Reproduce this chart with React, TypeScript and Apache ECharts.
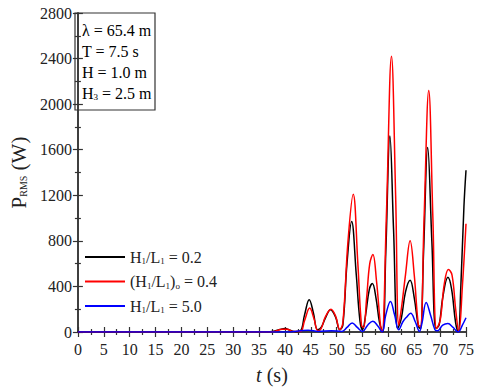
import React, { useEffect, useRef } from "react";
import * as echarts from "echarts";

const seriesNames = ["h02", "h04", "h50"];

const black: [number, number][] = [
  [0, 0], [30, 0], [36, 0], [37.5, 5], [39, 22], [40, 30], [41, 15], [42, 3], [43, 10],
  [43.8, 150], [44.7, 283], [45.5, 170], [46.3, 20], [47, 40], [47.8, 120], [48.8, 195],
  [49.8, 130], [50.6, 20], [51.2, 60], [52, 600], [52.9, 970], [53.8, 500], [54.5, 100],
  [55, 20], [55.6, 150], [56.3, 370], [56.9, 425], [57.6, 300], [58.3, 80], [58.9, 0],
  [59.5, 700], [60.3, 1720], [61.0, 900], [61.8, 30], [62.5, 120], [63.3, 350], [64.2, 455],
  [65, 300], [65.8, 50], [66.2, 30], [66.8, 700], [67.6, 1620], [68.4, 800], [69.2, 30],
  [69.8, 60], [70.5, 300], [71.5, 480], [72.2, 380], [73, 80], [73.5, 0], [74, 400],
  [74.6, 1100], [75, 1420],
];

const red: [number, number][] = [
  [0, 0], [36, 0], [38, 5], [39.5, 25], [40.5, 25], [41.5, 5], [43, 5], [43.8, 100],
  [44.8, 210], [45.6, 120], [46.4, 10], [47, 30], [47.8, 130], [48.9, 200], [49.8, 140],
  [50.6, 20], [51.2, 80], [52.2, 800], [53.2, 1210], [54.1, 600], [54.8, 60], [55.2, 40],
  [55.8, 300], [56.4, 600], [57, 680], [57.7, 450], [58.5, 50], [58.8, 0], [59.6, 1000],
  [60.6, 2420], [61.4, 1200], [62, 60], [62.5, 200], [63.3, 500], [64.2, 800], [65, 500],
  [65.8, 60], [66.2, 50], [66.9, 1000], [67.8, 2120], [68.6, 1000], [69.3, 30], [70, 100],
  [70.8, 420], [71.6, 549], [72.3, 500], [73, 200], [73.6, 0], [74.3, 400], [75, 950],
];

const blue: [number, number][] = [
  [0, 0], [40, 0], [44.5, 15], [46.5, 5], [49, 12], [51, 5], [52, 40], [53, 80], [54, 40],
  [55, 5], [56, 60], [57, 95], [58, 50], [58.8, 0], [59.5, 150], [60.4, 268], [61.2, 150],
  [62, 20], [62.8, 90], [63.5, 130], [64.3, 165], [65.2, 90], [66, 5], [66.5, 80],
  [67.3, 260], [68.2, 140], [69, 20], [69.5, 10], [70.5, 60], [71.5, 75], [72.5, 40],
  [73.5, 0], [74.3, 60], [75, 125],
];

const legendLabels: Record<string, string> = {
  h02: "{n|H}{s|1}{n|/L}{s|1}{n| = 0.2}",
  h04: "{n|(H}{s|1}{n|/L}{s|1}{n|)}{s|o}{n| = 0.4}",
  h50: "{n|H}{s|1}{n|/L}{s|1}{n| = 5.0}",
};

const infoLines = ["{n|λ = 65.4 m}", "{n|T = 7.5 s}", "{n|H = 1.0 m}", "{n|H}{s|3}{n| = 2.5 m}"];

const FONT = "'Liberation Serif', 'Times New Roman', serif";

export default function App() {
  const ref = useRef<HTMLDivElement>(null);
  useEffect(() => {
    const chart = echarts.init(ref.current!, undefined, { renderer: "svg" });
    const axisColor = "#333";
    const rich = {
      n: { fontFamily: FONT, fontSize: 16, color: "#222" },
      s: { fontFamily: FONT, fontSize: 9, color: "#222", padding: [8, 0, 0, 0] },
    };
    const tickRich = { t: { fontFamily: FONT, fontSize: 16, color: "#222" } };
    const common = {
      min: 0,
      axisLine: { show: true, lineStyle: { color: axisColor, width: 1.5 } },
      axisTick: { show: true, inside: true, length: 5, lineStyle: { color: axisColor, width: 1.2 } },
      minorTick: { show: true, splitNumber: 2, length: 3, lineStyle: { color: axisColor, width: 1.2 } },
      splitLine: { show: false },
    };
    const mk = (name: string, data: [number, number][], color: string) => ({
      name,
      type: "line",
      data,
      smooth: 0.4,
      showSymbol: false,
      symbol: "none",
      lineStyle: { color, width: 1.5 },
      itemStyle: { color },
      xAxisIndex: 0,
      yAxisIndex: 0,
    });
    chart.setOption({
      animation: false,
      textStyle: { fontFamily: FONT },
      grid: { left: 75, right: 14, top: 13, bottom: 54 },
      xAxis: [
        {
          ...common,
          type: "value",
          max: 75,
          interval: 5,
          position: "bottom",
          axisLabel: {
            fontFamily: FONT, fontSize: 16, color: "#222", margin: 9,
            formatter: (v: number) => `{t|${v}}`, rich: tickRich,
          },
          name: "{i|t} {n|(s)}",
          nameLocation: "middle",
          nameGap: 33,
          nameTextStyle: {
            fontFamily: FONT,
            fontSize: 20,
            rich: {
              i: { fontFamily: FONT, fontSize: 20, fontStyle: "italic", color: "#222" },
              n: { fontFamily: FONT, fontSize: 20, color: "#222" },
            },
          },
        },
        {
          ...common,
          type: "value",
          max: 75,
          interval: 5,
          position: "top",
          axisLabel: { show: false },
        },
      ],
      yAxis: [
        {
          ...common,
          type: "value",
          max: 2800,
          interval: 400,
          position: "left",
          axisLabel: {
            fontFamily: FONT, fontSize: 16, color: "#222", margin: 6,
            formatter: (v: number) => `{t|${v}}`, rich: tickRich,
          },
          name: "{p|P}{s|RMS}{p| (W)}",
          nameLocation: "middle",
          nameRotate: 90,
          nameGap: 47,
          nameTextStyle: {
            fontFamily: FONT,
            fontSize: 21,
            rich: {
              p: { fontFamily: FONT, fontSize: 21, color: "#222" },
              s: { fontFamily: FONT, fontSize: 10, color: "#222", padding: [10, 0, 0, 0] },
            },
          },
        },
        {
          ...common,
          type: "value",
          max: 2800,
          interval: 400,
          position: "right",
          axisLabel: { show: false },
        },
      ],
      legend: {
        orient: "vertical",
        left: 85,
        top: 249,
        padding: 0,
        itemWidth: 40,
        itemHeight: 2,
        itemGap: 8,
        icon: "rect",
        data: seriesNames,
        formatter: (n: string) => legendLabels[n],
        textStyle: { fontFamily: FONT, rich },
      },
      graphic: [
        {
          type: "rect",
          shape: { x: 75, y: 13, width: 80, height: 97 },
          style: { fill: "none", stroke: axisColor, lineWidth: 1.2 },
        },
        ...infoLines.map((t, i) => ({
          type: "text",
          x: 82,
          y: [30, 51, 72, 93][i],
          style: { text: t, rich, fontFamily: FONT, verticalAlign: "middle", align: "left" },
        })),
      ],
      series: [
        mk(seriesNames[0], black, "#000000"),
        mk(seriesNames[1], red, "#ff0000"),
        mk(seriesNames[2], blue, "#0000ff"),
      ],
    });
    return () => chart.dispose();
  }, []);
  return <div ref={ref} style={{ position: "absolute", left: 0, top: 0, width: 480, height: 390 }} />;
}
